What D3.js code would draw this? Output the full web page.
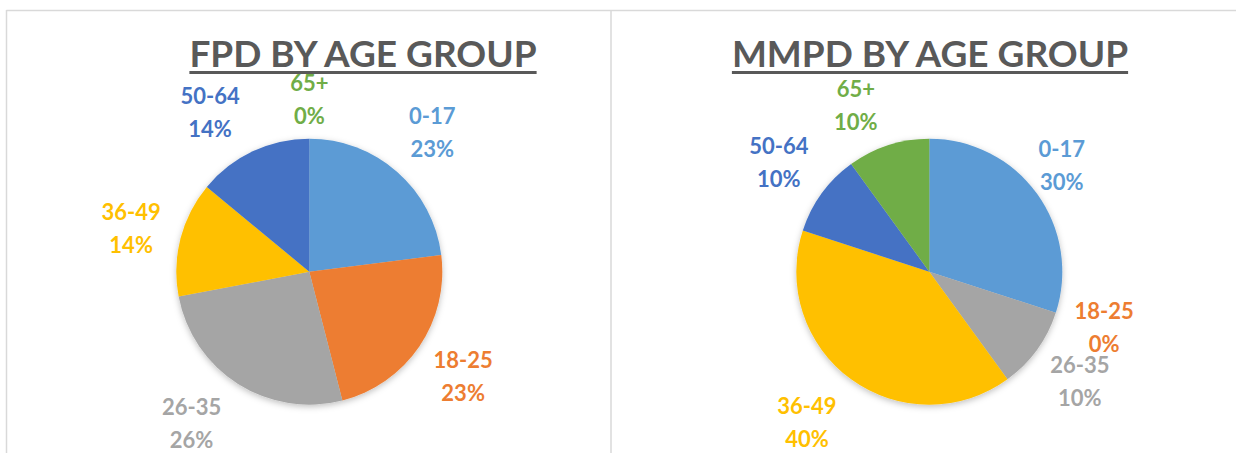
<!DOCTYPE html>
<html>
<head>
<meta charset="utf-8">
<script src="https://cdn.jsdelivr.net/npm/d3@7"></script>
<style>
  body { margin: 0; background: #fff; }
  text { font-family: Lato, "Open Sans", sans-serif; font-weight: bold; }
</style>
</head>
<body>
<div id="chart"></div>
<script>
// age groups shared by both pies
var ageGroups = ['0-17', '18-25', '26-35', '36-49', '50-64', '65+'];
// share of each age group, percent
var fpdValues = [23, 23, 26, 14, 14, 0];
var mmpdValues = [30, 0, 10, 40, 10, 10];
var titles = ['FPD BY AGE GROUP', 'MMPD BY AGE GROUP'];

// office palette, one per age group
var colors = ['#5B9BD5', '#ED7D31', '#A5A5A5', '#FFC000', '#4472C4', '#70AD47'];

var width = 1236, height = 453;

var svg = d3.select('#chart').append('svg').attr('width', width).attr('height', height);

// soft shadow under the pies
var defs = svg.append('defs');
var filter = defs.append('filter').attr('id', 'shadow').attr('x', '-20%').attr('y', '-20%').attr('width', '140%').attr('height', '140%');
filter.append('feDropShadow').attr('dx', 0).attr('dy', 2).attr('stdDeviation', 3).attr('flood-color', '#000').attr('flood-opacity', 0.25);

// panel borders
svg.append('line').attr('x1', 6.5).attr('x2', width).attr('y1', 10.5).attr('y2', 10.5).attr('stroke', '#d9d9d9').attr('stroke-width', 1.5);
svg.append('line').attr('x1', 6.5).attr('x2', 6.5).attr('y1', 10).attr('y2', height).attr('stroke', '#d9d9d9').attr('stroke-width', 1.5);
svg.append('line').attr('x1', 611).attr('x2', 611).attr('y1', 10).attr('y2', height).attr('stroke', '#d9d9d9').attr('stroke-width', 1.5);

var color = d3.scaleOrdinal().domain(ageGroups).range(colors);

var radius = 133;
var pie = d3.pie().sort(null).value(function (d) { return d.value; });
var arc = d3.arc().innerRadius(0).outerRadius(radius);
var labelArc = d3.arc().innerRadius(186).outerRadius(186);

// layout of the two charts; nudge moves labels the way excel's best-fit did
var charts = [
  { values: fpdValues, cx: 309.3, cy: 271.7, titleX: 363,
    nudge: { '65+': [0, 13], '50-64': [-20, 9], '26-35': [-18, -6], '36-49': [2, 3] } },
  { values: mmpdValues, cx: 929.3, cy: 271.7, titleX: 930,
    nudge: { '36-49': [-13, 0], '65+': [-16, 10], '0-17': [-18, 3], '18-25': [-2, -2] } }
];

charts.forEach(function (c, ci) {
  var data = ageGroups.map(function (g, i) { return { group: g, value: c.values[i] }; });
  var arcs = pie(data);

  // title with underline
  var title = svg.append('text')
    .attr('x', c.titleX).attr('y', 67)
    .attr('text-anchor', 'middle')
    .style('font-size', '37px')
    .attr('fill', '#595959')
    .text(titles[ci]);
  var tw = title.node().getComputedTextLength();
  svg.append('rect')
    .attr('x', c.titleX - tw / 2).attr('y', 71)
    .attr('width', tw).attr('height', 3)
    .attr('fill', '#595959');

  var g = svg.append('g').attr('transform', 'translate(' + c.cx + ',' + c.cy + ')');

  g.append('g').attr('filter', 'url(#shadow)')
    .selectAll('path').data(arcs).enter().append('path')
    .attr('d', arc)
    .attr('fill', function (d) { return color(d.data.group); });

  var labels = g.selectAll('.label').data(arcs).enter().append('text')
    .attr('class', 'label')
    .attr('text-anchor', 'middle')
    .style('font-size', '22px')
    .attr('fill', function (d) { return color(d.data.group); })
    .attr('transform', function (d) {
      var p = labelArc.centroid(d);
      var n = c.nudge[d.data.group] || [0, 0];
      return 'translate(' + (p[0] + n[0]) + ',' + (p[1] + n[1]) + ')';
    });
  labels.append('tspan').attr('x', 0).attr('y', -8).text(function (d) { return d.data.group; });
  labels.append('tspan').attr('x', 0).attr('y', 25).text(function (d) { return d.data.value + '%'; });
});
</script>
</body>
</html>
